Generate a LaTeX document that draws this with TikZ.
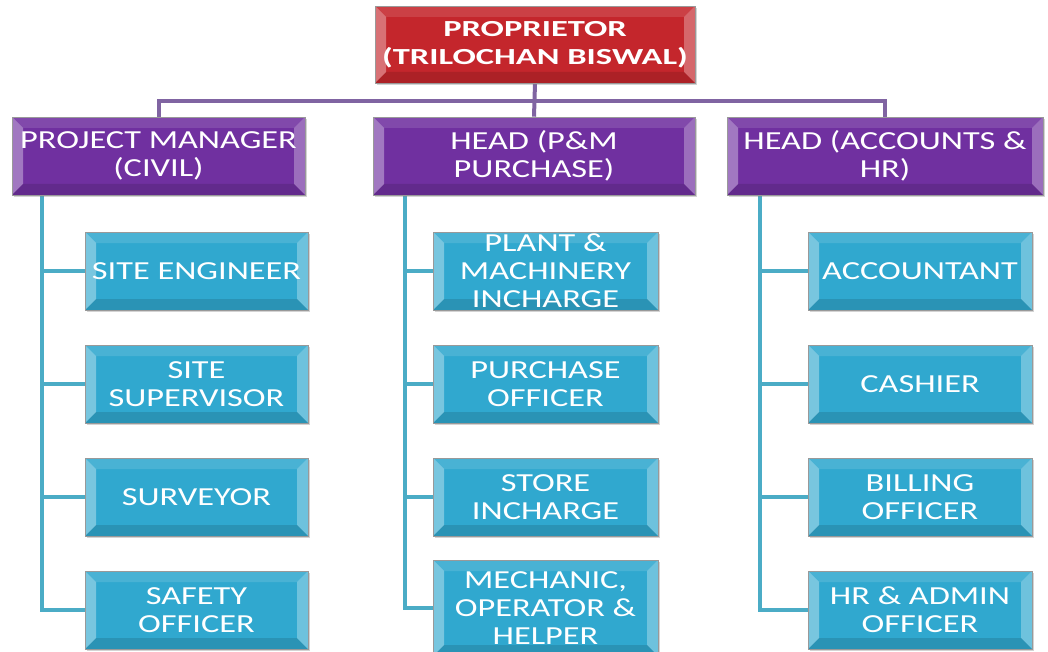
\documentclass[tikz,border=0pt]{standalone}
\usepackage{fontspec}
\setmainfont{Carlito}[FakeStretch=1.32]
\newfontfamily\propfont{Carlito}[FakeStretch=1.5]
\usetikzlibrary{shadows,backgrounds}

\definecolor{propred}{HTML}{C4262C}
\definecolor{headpurple}{HTML}{7030A0}
\definecolor{staffteal}{HTML}{30A8CF}
\definecolor{purpleline}{HTML}{8064A2}
\definecolor{tealline}{HTML}{4BACC6}

\tikzset{
  bevel/.style={path picture={
    \fill[white,opacity=.35] (path picture bounding box.north west) -- ([shift={(11pt,-11pt)}]path picture bounding box.north west) -- ([shift={(11pt,11pt)}]path picture bounding box.south west) -- (path picture bounding box.south west) -- cycle;
    \fill[white,opacity=.3] (path picture bounding box.north east) -- ([shift={(-11pt,-11pt)}]path picture bounding box.north east) -- ([shift={(-11pt,11pt)}]path picture bounding box.south east) -- (path picture bounding box.south east) -- cycle;
    \fill[white,opacity=.12] (path picture bounding box.north west) -- (path picture bounding box.north east) -- ([shift={(-11pt,-11pt)}]path picture bounding box.north east) -- ([shift={(11pt,-11pt)}]path picture bounding box.north west) -- cycle;
    \fill[black,opacity=.12] (path picture bounding box.south west) -- (path picture bounding box.south east) -- ([shift={(-11pt,11pt)}]path picture bounding box.south east) -- ([shift={(11pt,11pt)}]path picture bounding box.south west) -- cycle;
  }},
  orgbox/.style={bevel, draw=black!40, line width=0.6pt, inner sep=0pt, text=white, align=center,
    font=\fontsize{26}{28}\selectfont,
    drop shadow={shadow xshift=2pt, shadow yshift=-2pt, opacity=.35}},
  propbox/.style={orgbox, fill=propred, minimum width=320pt, minimum height=77pt,
    font=\propfont\bfseries\fontsize{23}{28}\selectfont},
  headbox/.style={orgbox, fill=headpurple, minimum height=78pt},
  staffbox/.style={orgbox, fill=staffteal, minimum height=78pt},
  bus/.style={line width=4pt, purpleline},
  trunk/.style={line width=4pt, tealline}
}

\begin{document}
\begin{tikzpicture}[x=1pt,y=-1pt]
\useasboundingbox (0,0) rectangle (1048,652);

% proprietor and heads
\node[propbox] (prop) at (535,44.5) {PROPRIETOR\\(TRILOCHAN BISWAL)};
\node[headbox, minimum width=293pt] (pm) at (158.5,156) {PROJECT MANAGER\\(CIVIL)};
\node[headbox, minimum width=322pt] (hpm) at (534,156) {HEAD (P\&M\\PURCHASE)};
\node[headbox, minimum width=316pt] (hac) at (885,156) {HEAD (ACCOUNTS \&\\HR)};

% trunk coordinates
\coordinate (t1) at (42,190);
\coordinate (t2) at (405,190);
\coordinate (t3) at (760,190);

% staff
\foreach \n/\y/\t in {se/271/{SITE ENGINEER}, ss/384/{SITE\\SUPERVISOR}, sv/497/{SURVEYOR}, so/610/{SAFETY\\OFFICER}} {
    \node[staffbox, minimum width=223pt] (\n) at (196.5,\y) {\t};
}
\foreach \n/\y/\t in {pmi/271/{PLANT \&\\MACHINERY\\INCHARGE}, po/384/{PURCHASE\\OFFICER}, si/497/{STORE\\INCHARGE}} {
    \node[staffbox, minimum width=225pt] (\n) at (545.5,\y) {\t};
}
\node[staffbox, minimum width=225pt, minimum height=96pt] (mo) at (545.5,608) {MECHANIC,\\OPERATOR \&\\HELPER};
\foreach \n/\y/\t in {ac/271/{ACCOUNTANT}, ca/384/{CASHIER}, bo/497/{BILLING\\OFFICER}, ha/610/{HR \& ADMIN\\OFFICER}} {
    \node[staffbox, minimum width=224pt] (\n) at (920,\y) {\t};
}

% connectors (behind the boxes)
\begin{scope}[on background layer]
\draw[bus] (pm.north) -- ++(0,-16) -| (hac.north);
\draw[bus] (prop.south) -- (hpm.north);
\draw[trunk] (t1) |- (so.west);
\draw[trunk] (t2) |- (mo.west);
\draw[trunk] (t3) |- (ha.west);
\foreach \n in {se,ss,sv} {
    \draw[trunk] (\n.west) -- (\n.west -| t1);
}
\foreach \n in {pmi,po,si} {
    \draw[trunk] (\n.west) -- (\n.west -| t2);
}
\foreach \n in {ac,ca,bo} {
    \draw[trunk] (\n.west) -- (\n.west -| t3);
}
\end{scope}
\end{tikzpicture}
\end{document}
